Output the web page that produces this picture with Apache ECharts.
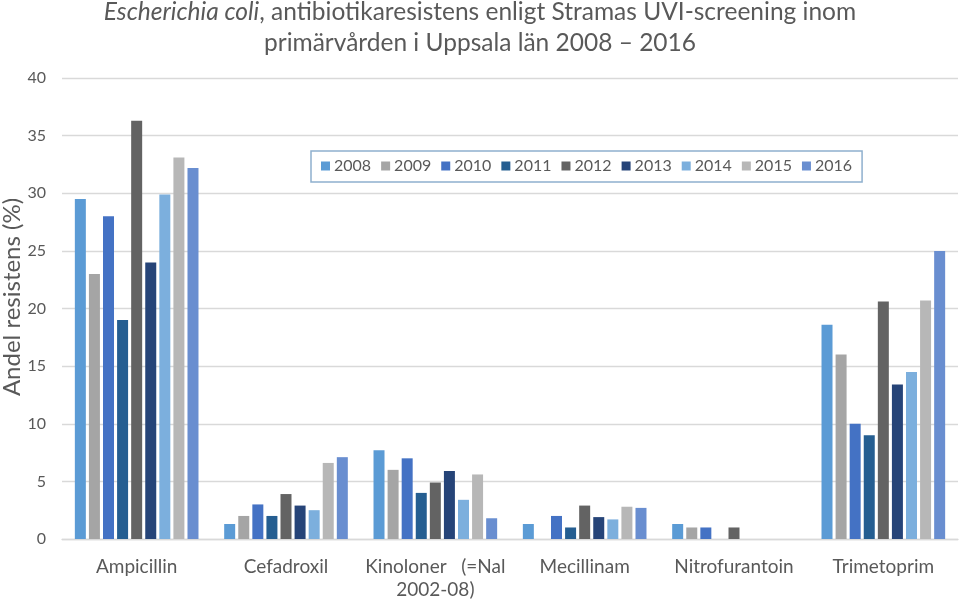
<!DOCTYPE html>
<html><head><meta charset="utf-8">
<script src="https://cdn.jsdelivr.net/npm/echarts@6/dist/echarts.min.js"></script>
<style>html,body{margin:0;padding:0;background:#fff}#c{width:960px;height:601px}</style>
</head><body><div id="c"></div>
<script>
const categories = ["Ampicillin", "Cefadroxil", "Kinoloner   (=Nal\n2002-08)", "Mecillinam", "Nitrofurantoin", "Trimetoprim"];
const years = ["2008","2009","2010","2011","2012","2013","2014","2015","2016"];
const v2008 = [29.5, 1.3, 7.7, 1.3, 1.3, 18.6];
const v2009 = [23.0, 2.0, 6.0, null, 1.0, 16.0];
const v2010 = [28.0, 3.0, 7.0, 2.0, 1.0, 10.0];
const v2011 = [19.0, 2.0, 4.0, 1.0, null, 9.0];
const v2012 = [36.3, 3.9, 4.9, 2.9, 1.0, 20.6];
const v2013 = [24.0, 2.9, 5.9, 1.9, null, 13.4];
const v2014 = [29.9, 2.5, 3.4, 1.7, null, 14.5];
const v2015 = [33.1, 6.6, 5.6, 2.8, null, 20.7];
const v2016 = [32.2, 7.1, 1.8, 2.7, null, 25.0];
const yTicks = [0, 5, 10, 15, 20, 25, 30, 35, 40];
const colors = ["#5B9BD5","#A5A5A5","#4472C4","#255E91","#636363","#264478","#7CAFDD","#B7B7B7","#698ED0"];
const values = [v2008, v2009, v2010, v2011, v2012, v2013, v2014, v2015, v2016];
const font = "Lato, 'Open Sans', sans-serif";

const chart = echarts.init(document.getElementById('c'), null, {renderer: 'canvas'});
chart.setOption({
  animation: false,
  color: colors,
  title: {
    left: 475, top: -8, textAlign: 'center',
    text: '{i|Escherichia coli}{n|, antibiotikaresistens enligt Stramas UVI-screening inom}\n{n|primärvården i Uppsala län 2008 – 2016}',
    textStyle: {
      fontWeight: 'normal',
      rich: {
        i: {fontFamily: font, fontSize: 24.5, fontStyle: 'italic', fontWeight: 'normal', color: '#595959', lineHeight: 31},
        n: {fontFamily: font, fontSize: 24.5, fontWeight: 'normal', color: '#595959', lineHeight: 31}
      }
    }
  },
  legend: {
    data: years,
    left: 311, top: 151, width: 560,
    itemWidth: 9, itemHeight: 9, itemGap: 10,
    padding: [7, 10, 8, 10],
    borderColor: '#8FB0CE', borderWidth: 1.5,
    icon: 'rect',
    textStyle: {fontFamily: font, fontSize: 16, color: '#595959', padding: [0,0,0,-1]}
  },
  grid: {left: 62, right: 2, top: 78, bottom: 62, outerBoundsMode: 'none', containLabel: false},
  xAxis: {
    type: 'category', data: categories,
    axisTick: {show: false},
    axisLine: {lineStyle: {color: '#D9D9D9', width: 1.3}},
    axisLabel: {fontFamily: font, fontSize: 19, color: '#595959', margin: 16, lineHeight: 23, interval: 0}
  },
  yAxis: {
    type: 'value', min: yTicks[0], max: yTicks[yTicks.length-1], interval: 5,
    name: 'Andel resistens (%)', nameLocation: 'middle', nameGap: 38, nameMoveOverlap: false,
    nameTextStyle: {fontFamily: font, fontSize: 24, color: '#595959', padding: [0, 0, 0, 23]},
    axisLabel: {fontFamily: font, fontSize: 16, color: '#595959', margin: 16},
    splitLine: {lineStyle: {color: '#D9D9D9', width: 1.3}},
    axisLine: {show: false}, axisTick: {show: false}
  },
  series: years.map((y, i) => ({
    name: y, type: 'bar', data: values[i],
    barWidth: 11, barGap: '28%',
    itemStyle: {color: colors[i]}
  }))
});
</script></body></html>
